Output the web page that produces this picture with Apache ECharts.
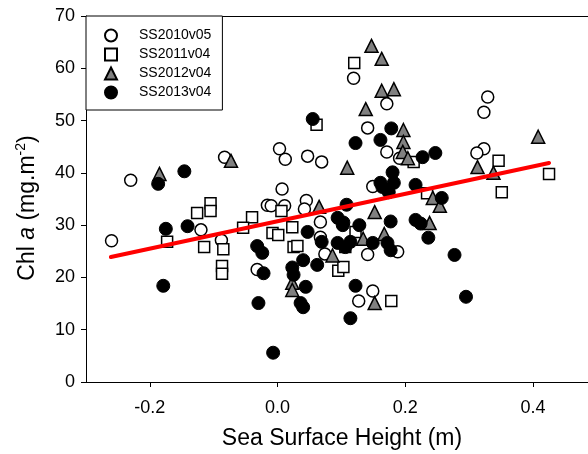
<!DOCTYPE html>
<html>
<head>
<meta charset="utf-8">
<script src="https://cdn.jsdelivr.net/npm/echarts@6/dist/echarts.min.js"></script>
<style>
  html, body { margin: 0; padding: 0; background: #fff; }
  #main { width: 588px; height: 454px; }
</style>
</head>
<body>
<div id="main"></div>
<script>
// values
var ss2010x = [-0.26, -0.23, -0.083, -0.12, -0.088, -0.032, -0.016, 0.003, 0.012, 0.047, 0.069, 0.141, 0.171, 0.119, 0.171, 0.191, 0.007, -0.010, 0.011, 0.045, 0.042, 0.067, 0.067, 0.074, 0.149, 0.141, 0.188, 0.329, 0.323, 0.323, 0.312, 0.149, 0.127];
var ss2010y = [27.0, 38.6, 43.0, 29.1, 27.1, 21.5, 33.8, 44.6, 42.6, 43.2, 42.1, 48.6, 53.2, 58.1, 44.0, 42.8, 36.9, 33.7, 33.7, 34.7, 33.1, 30.6, 27.7, 24.5, 37.4, 24.4, 24.9, 54.5, 51.6, 44.6, 43.8, 17.4, 15.5];

var ss2011x = [-0.173, -0.126, -0.105, -0.105, -0.115, -0.085, -0.087, -0.087, -0.040, -0.054, 0.006, -0.008, 0.001, 0.023, 0.025, 0.031, 0.095, 0.061, 0.120, 0.346, 0.425, 0.351, 0.213, 0.234, 0.178, 0.122, 0.106, 0.103];
var ss2011y = [26.8, 32.3, 34.2, 32.7, 25.8, 25.4, 22.2, 20.7, 31.5, 29.5, 32.7, 28.5, 28.1, 29.6, 25.8, 26.0, 21.3, 49.2, 61.0, 42.3, 39.8, 36.3, 42.1, 36.1, 15.5, 28.7, 25.8, 22.0];

var ss2012x = [-0.185, -0.073, 0.147, 0.163, 0.163, 0.182, 0.138, 0.197, 0.197, 0.196, 0.204, 0.408, 0.313, 0.338, 0.243, 0.254, 0.238, 0.167, 0.109, 0.065, 0.152, 0.134, 0.086, 0.023, 0.023, 0.152];
var ss2012y = [39.8, 42.3, 64.3, 61.8, 55.7, 56.0, 52.2, 48.2, 45.9, 44.0, 42.8, 46.9, 41.1, 40.0, 35.2, 33.7, 30.4, 28.3, 41.0, 33.5, 32.5, 27.4, 24.2, 19.0, 17.6, 15.1];

var ss2013x = [-0.187, -0.146, -0.175, -0.141, -0.179, -0.032, -0.024, -0.022, -0.030, 0.023, 0.025, 0.040, 0.062, 0.047, 0.069, 0.094, 0.103, 0.094, 0.106, 0.055, 0.122, 0.161, 0.178, 0.180, 0.164, 0.174, 0.161, 0.182, 0.216, 0.227, 0.247, 0.108, 0.102, 0.128, 0.177, 0.216, 0.224, 0.236, 0.114, 0.149, 0.172, 0.177, 0.257, 0.277, 0.295, 0.044, 0.036, 0.040, -0.007, 0.114, 0.122];
var ss2013y = [37.9, 40.3, 29.3, 29.8, 18.4, 26.0, 24.7, 20.8, 15.1, 21.9, 20.5, 23.3, 22.4, 28.7, 26.8, 31.4, 30.5, 26.6, 25.8, 50.3, 45.7, 46.3, 48.5, 40.1, 37.3, 36.3, 38.1, 38.1, 37.7, 43.0, 43.8, 33.9, 30.0, 30.0, 30.7, 31.0, 30.3, 27.6, 26.8, 26.6, 26.6, 25.2, 35.2, 24.3, 16.3, 18.2, 15.1, 14.3, 5.6, 12.2, 18.4];

// regression line end points
var fitX = [-0.261, 0.425];
var fitY = [23.9, 41.9];

var xTicks = [-0.2, 0, 0.2, 0.4];

function zip(xs, ys) {
  return xs.map(function (x, i) { return [x, ys[i]]; });
}

var chartDom = document.getElementById('main');
var myChart = echarts.init(chartDom);
var font = 'Liberation Sans';
var xMin = -0.3, xMax = 0.486;

var option = {
  animation: false,
  grid: { left: 86, top: 16, right: 0, bottom: 72 },
  legend: {
    data: ['SS2010v05', 'SS2011v04', 'SS2012v04', 'SS2013v04'],
    orient: 'vertical',
    left: 86, top: 16,
    itemWidth: 12, itemHeight: 12, itemGap: 0,
    symbolKeepAspect: true,
    padding: [10, 11, 8, 18],
    backgroundColor: '#fff',
    borderColor: '#000', borderWidth: 1, borderRadius: 0,
    formatter: function (name) { return '{p|}' + name; },
    textStyle: {
      fontFamily: font, fontSize: 14, color: '#000', lineHeight: 19,
      rich: { p: { width: 17 } }
    }
  },
  xAxis: [
    {
      type: 'value', min: xMin, max: xMax,
      splitLine: { show: false },
      axisLine: { onZero: false, lineStyle: { color: '#000', width: 1 } },
      axisTick: { length: 5, lineStyle: { color: '#000' }, customValues: xTicks },
      axisLabel: {
        customValues: xTicks, margin: 17,
        color: '#000', fontFamily: font, fontSize: 18,
        formatter: function (v) { return v.toFixed(1); }
      }
    },
    {
      // top frame line
      type: 'value', position: 'top', min: xMin, max: xMax,
      splitLine: { show: false },
      axisLine: { onZero: false, lineStyle: { color: '#000', width: 1 } },
      axisTick: { show: false },
      axisLabel: { show: false }
    }
  ],
  yAxis: {
    type: 'value', min: 0, max: 70, interval: 10,
    splitLine: { show: false },
    axisLine: { show: true, onZero: false, lineStyle: { color: '#000', width: 1 } },
    axisTick: { show: true, length: 5, lineStyle: { color: '#000' } },
    axisLabel: { margin: 11, color: '#000', fontFamily: font, fontSize: 18 }
  },
  graphic: [
    {
      type: 'text', x: 342, y: 439,
      style: {
        text: 'Sea Surface Height (m)', fill: '#000',
        font: '23px "Liberation Sans"', align: 'center', verticalAlign: 'middle'
      }
    },
    {
      type: 'text', x: 28, y: 208, rotation: Math.PI / 2,
      style: {
        text: '{n|Chl }{i|a}{n| (mg.m}{s|-2}{n|)}',
        align: 'center', verticalAlign: 'middle',
        rich: {
          n: { fontFamily: font, fontSize: 23, color: '#000', lineHeight: 27 },
          i: { fontFamily: font, fontSize: 23, fontStyle: 'italic', color: '#000', lineHeight: 27 },
          s: { fontFamily: font, fontSize: 14, color: '#000', verticalAlign: 'top', lineHeight: 14 }
        }
      }
    }
  ],
  series: [
    {
      name: 'SS2010v05', type: 'scatter', symbol: 'circle', symbolSize: 12,
      itemStyle: { color: '#fff', borderColor: '#000', borderWidth: 1.5, opacity: 1 },
      data: zip(ss2010x, ss2010y)
    },
    {
      name: 'SS2011v04', type: 'scatter', symbol: 'rect', symbolSize: 11,
      itemStyle: { color: '#fff', borderColor: '#000', borderWidth: 1.5, opacity: 1 },
      data: zip(ss2011x, ss2011y)
    },
    {
      name: 'SS2012v04', type: 'scatter', symbol: 'triangle', symbolSize: 13,
      itemStyle: { color: '#808080', borderColor: '#000', borderWidth: 1.5, opacity: 1 },
      data: zip(ss2012x, ss2012y)
    },
    {
      name: 'SS2013v04', type: 'scatter', symbol: 'circle', symbolSize: 13,
      itemStyle: { color: '#000', borderColor: '#000', borderWidth: 1, opacity: 1 },
      data: zip(ss2013x, ss2013y)
    },
    {
      name: 'fit', type: 'line', symbol: 'none', silent: true,
      lineStyle: { color: '#ff0000', width: 4, cap: 'round' },
      data: zip(fitX, fitY)
    }
  ]
};

option && myChart.setOption(option);
</script>
</body>
</html>
